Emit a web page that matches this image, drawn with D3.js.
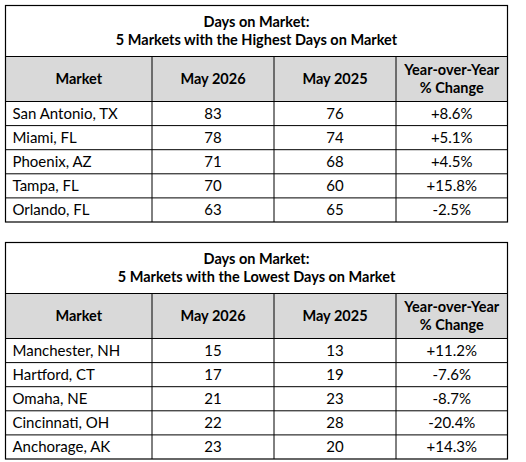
<!DOCTYPE html>
<html><head><meta charset="utf-8">
<script src="https://cdn.jsdelivr.net/npm/d3@7"></script>
<style>body{margin:0;background:#fff}</style></head>
<body><svg id="c" width="526" height="462"></svg>
<script>
const headers = ["Market","May 2026","May 2025","Year-over-Year|% Change"];
const titlesHigh = ["Days on Market:","5 Markets with the Highest Days on Market"];
const titlesLow = ["Days on Market:","5 Markets with the Lowest Days on Market"];
const marketsHigh = ["San Antonio, TX","Miami, FL","Phoenix, AZ","Tampa, FL","Orlando, FL"];
const may2026High = [83,78,71,70,63];
const may2025High = [76,74,68,60,65];
const changeHigh = ["+8.6%","+5.1%","+4.5%","+15.8%","-2.5%"];
const marketsLow = ["Manchester, NH","Hartford, CT","Omaha, NE","Cincinnati, OH","Anchorage, AK"];
const may2026Low = [15,17,21,22,23];
const may2025Low = [13,19,23,28,20];
const changeLow = ["+11.2%","-7.6%","-8.7%","-20.4%","+14.3%"];

const svg = d3.select("#c");
const font = "Lato, 'Open Sans', sans-serif";
const colEdges = [5.5,152,274,396,507.5];

function table(top, titles, markets, a, b, ch){
  const g = svg.append("g");
  const titleH = 51, headH = 45, rowH = 24.1;
  const y = d3.scaleBand().domain(d3.range(markets.length)).range([top+titleH+headH, top+titleH+headH+rowH*markets.length]);
  const L = colEdges[0], R = colEdges[4];
  const bottom = top+titleH+headH+rowH*markets.length;
  g.append("rect").attr("x",L).attr("y",top+titleH).attr("width",R-L).attr("height",headH).attr("fill","#d9d9d9");
  titles.forEach((t,i)=>g.append("text").attr("x",(L+R)/2).attr("y",top+21+i*18).attr("text-anchor","middle")
    .attr("font-family",font).attr("font-weight","bold").attr("font-size",14.5).text(t));
  headers.forEach((h,i)=>{
    const cx=(colEdges[i]+colEdges[i+1])/2, parts=h.split("|");
    parts.forEach((p,j)=>g.append("text").attr("x",cx)
      .attr("y",top+titleH+headH/2+5+(parts.length>1?(j-0.5)*18:0)).attr("text-anchor","middle")
      .attr("font-family",font).attr("font-weight","bold").attr("font-size",14.5).text(p));
  });
  markets.forEach((m,i)=>{
    const ty=y(i)+y.bandwidth()/2+5.5;
    const vals=[m,a[i],b[i],ch[i]];
    vals.forEach((v,k)=>g.append("text").attr("x",k==0?colEdges[0]+7:(colEdges[k]+colEdges[k+1])/2)
      .attr("y",ty).attr("text-anchor",k==0?"start":"middle").attr("font-family",font).attr("font-size",15).text(v));
    g.append("line").attr("x1",L).attr("x2",R).attr("y1",y(i)).attr("y2",y(i)).attr("stroke","#000");
  });
  g.append("line").attr("x1",L).attr("x2",R).attr("y1",top+titleH).attr("y2",top+titleH).attr("stroke","#000");
  colEdges.slice(1,4).forEach(x=>g.append("line").attr("x1",x).attr("x2",x).attr("y1",top+titleH).attr("y2",bottom).attr("stroke","#000"));
  g.append("rect").attr("x",L).attr("y",top).attr("width",R-L).attr("height",bottom-top).attr("fill","none").attr("stroke","#000").attr("stroke-width",1.2);
}
table(5.5, titlesHigh, marketsHigh, may2026High, may2025High, changeHigh);
table(242.5, titlesLow, marketsLow, may2026Low, may2025Low, changeLow);
</script></body></html>
